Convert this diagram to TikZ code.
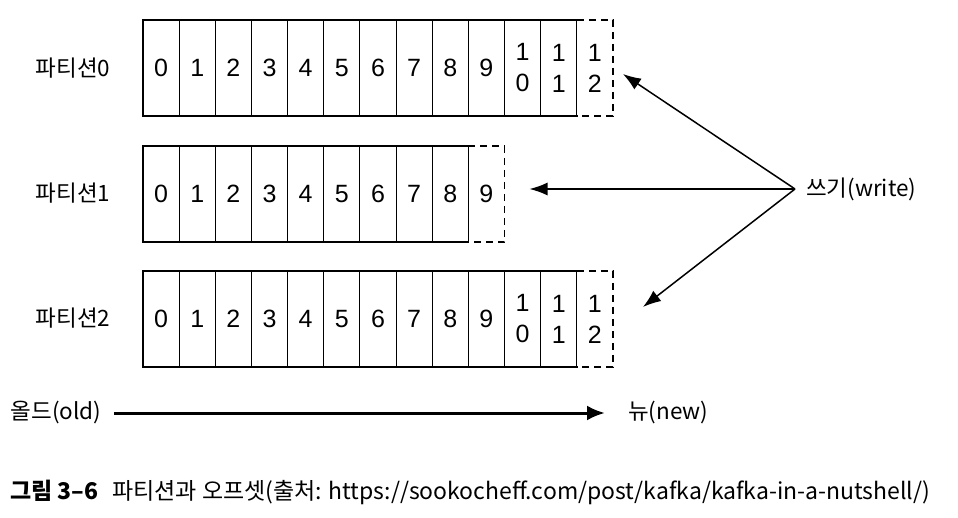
\documentclass[tikz,border=0pt]{standalone}
\usepackage{fontspec}
\setmainfont{Noto Sans CJK KR}
\newfontfamily\digitfont{Liberation Sans}
\usetikzlibrary{arrows.meta}
\begin{document}
\begin{tikzpicture}[x=1pt,y=-1pt,
  cellbox/.style={minimum width=36.15pt, minimum height=96pt, inner sep=0pt, outer sep=0pt,
    draw, line width=1pt, align=center, anchor=north west,
    font=\digitfont\fontsize{25}{31}\selectfont},
  lastcell/.style={cellbox, draw=none},
  outerline/.style={line width=2pt},
  dashline/.style={line width=1.5pt, dash pattern=on 7pt off 5pt},
  lbl/.style={font=\fontsize{22.5}{26}\selectfont, inner sep=0pt},
  warrow/.style={line width=1.5pt, -{Latex[length=18pt,width=13pt]}},
  oarrow/.style={line width=3pt, -{Latex[length=18pt,width=15pt]}}
]
\useasboundingbox (0,0) rectangle (958,518);

\foreach \r/\T/\n in {0/20/12, 1/146/9, 2/271/12} {
  \pgfmathtruncatemacro\m{\n-1}
  \foreach \i in {0,...,\n} {
    \pgfmathsetmacro\X{143+36.15*\i}
    \ifnum\i<10
      \def\txt{\i}
    \else
      \pgfmathtruncatemacro\ones{\i-10}
      \edef\txt{1\noexpand\\\ones}
    \fi
    \ifnum\i<\n
      \node[cellbox] (c\r-\i) at (\X,\T) {\txt};
    \else
      \node[lastcell] (c\r-\i) at (\X,\T) {\txt};
      \draw[dashline] (c\r-\i.north west) -- (c\r-\i.north east) -- (c\r-\i.south east) -- (c\r-\i.south west);
    \fi
  }
  \draw[outerline] (c\r-\m.north east) -- (c\r-0.north west) -- (c\r-0.south west) -- (c\r-\m.south east);
}

\node[lbl] (p0) at (73,68) {파티션0};
\node[lbl] (p1) at (73,193) {파티션1};
\node[lbl] (p2) at (73,318) {파티션2};

\node[lbl, anchor=west] (write) at (806,189) {쓰기(write)};
\coordinate (w) at ([xshift=-11pt]write.west);
\coordinate (t0) at ([xshift=10pt,yshift=-6pt]c0-12.east);
\coordinate (t1) at ([xshift=25pt,yshift=5pt]c1-9.east);
\coordinate (t2) at ([xshift=30pt,yshift=12pt]c2-12.east);
\draw[warrow] (w) -- (t0);
\draw[warrow] (w) -- (t1);
\draw[warrow] (w) -- (t2);

\node[lbl] (old) at (56,413) {올드(old)};
\node[lbl, anchor=west] (new) at (628,413) {뉴(new)};
\draw[oarrow] ([xshift=13pt]old.east) -- ([xshift=-23pt]new.west);

\node[anchor=west, inner sep=0pt, font=\fontsize{23}{27}\selectfont] (cap) at (10,492)
  {\textbf{그림 3–6}\hspace{0.6em}파티션과 오프셋(출처: https://sookocheff.com/post/kafka/kafka-in-a-nutshell/)};
\end{tikzpicture}
\end{document}
